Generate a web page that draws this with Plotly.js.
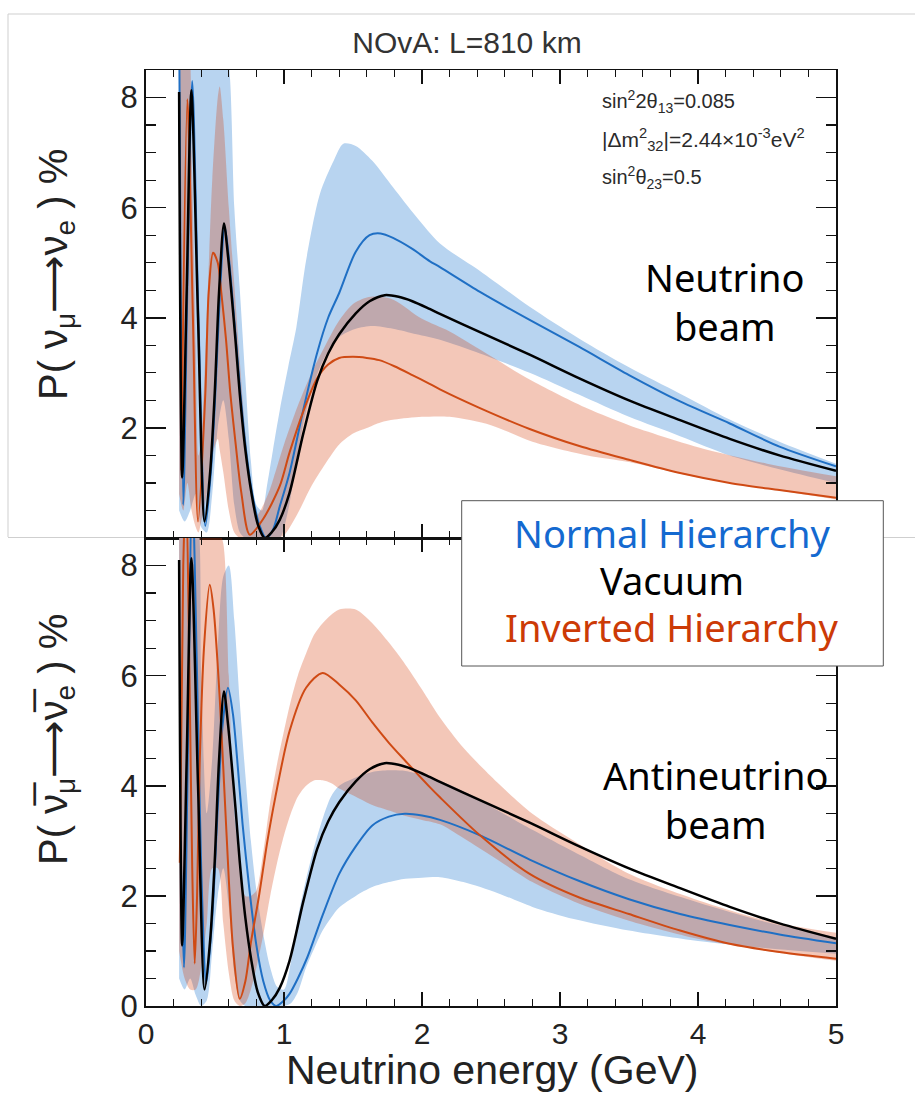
<!DOCTYPE html>
<html>
<head>
<meta charset="utf-8">
<script src="https://cdn.plot.ly/plotly-3.0.1.min.js"></script>
<style>
html,body{margin:0;padding:0;background:#fff;}
#chart{width:915px;height:1093px;}
</style>
</head>
<body>
<div id="chart"></div>
<script>
// ---------- Vacuum (same curve in both panels) ----------
const E_vac = [0.24,0.262,0.295,0.329,0.377,0.425,0.465,0.498,0.529,0.565,0.595,0.619,0.65,0.679,0.72,0.764,0.81,0.86,0.91,0.969,1.04,1.14,1.24,1.32,1.40,1.52,1.62,1.73,1.83,1.93,2.055,2.13,2.42,2.78,3.14,3.5,3.87,4.23,4.59,5.0];
const P_vac = [8.1,1.1,4.5,8.13,4.0,0.30,1.2,2.63,4.45,5.71,5.1,4.45,3.55,2.63,1.6,0.82,0.25,0.0,0.1,0.33,0.82,1.9,2.85,3.35,3.7,4.08,4.3,4.41,4.38,4.3,4.16,4.07,3.74,3.33,2.90,2.50,2.14,1.80,1.50,1.22];

// ---------- Neutrino beam: lines ----------
const E_nh_nu = [0.24,0.27,0.30,0.335,0.38,0.43,0.47,0.50,0.535,0.57,0.60,0.625,0.655,0.685,0.725,0.77,0.82,0.87,0.92,0.969,1.04,1.14,1.24,1.32,1.40,1.52,1.62,1.70,1.79,1.93,2.055,2.13,2.42,2.78,3.14,3.5,3.87,4.23,4.59,5.0];
const P_nh_nu = [9.5,0.6,4.6,8.3,4.0,0.22,1.2,2.5,4.4,5.66,5.1,4.4,3.5,2.6,1.6,0.8,0.25,0.0,0.15,0.57,1.18,2.33,3.36,4.0,4.45,5.2,5.5,5.53,5.45,5.25,5.03,4.92,4.47,3.96,3.47,2.96,2.48,2.08,1.66,1.30];
const E_ih_nu = [0.256,0.30,0.34,0.377,0.43,0.454,0.486,0.52,0.546,0.58,0.611,0.65,0.691,0.752,0.85,0.969,1.04,1.14,1.24,1.32,1.40,1.50,1.60,1.69,1.80,1.93,2.055,2.13,2.42,2.78,3.14,3.5,3.87,4.23,4.59,5.0];
const P_ih_nu = [1.23,7.97,4.0,0.30,2.63,4.45,5.18,5.0,4.45,3.6,2.63,1.7,0.82,0.06,0.35,0.94,1.55,2.3,2.9,3.15,3.27,3.29,3.27,3.23,3.12,2.96,2.8,2.7,2.36,1.98,1.67,1.42,1.18,1.0,0.87,0.73];

// ---------- Neutrino beam: bands ----------
const E_nhband_nu = [0.24,0.28,0.32,0.36,0.40,0.44,0.48,0.52,0.56,0.60,0.64,0.68,0.72,0.76,0.80,0.84,0.88,0.92,0.97,1.03,1.09,1.16,1.26,1.36,1.43,1.52,1.64,1.79,1.96,2.13,2.42,2.78,3.14,3.5,3.87,4.23,4.59,5.0];
const nhband_nu_hi = [9,9,9,9,9,9,9,9,9,8.6,6.0,4.5,2.9,1.4,0.6,0.5,1.0,1.6,2.33,3.1,3.83,5.04,6.25,6.85,7.16,7.12,6.85,6.37,5.83,5.35,4.85,4.2,3.62,3.1,2.62,2.15,1.75,1.35];
const nhband_nu_lo = [0.5,0.3,0.5,0.8,0.2,0.1,0.8,2.0,2.5,1.8,0.6,0.1,0,0,0,0,0,0,0,0.5,1.4,2.3,3.1,3.55,3.7,3.8,3.85,3.8,3.7,3.6,3.35,3.0,2.6,2.2,1.85,1.5,1.25,1.0];
const E_ihband_nu = [0.24,0.27,0.30,0.33,0.36,0.38,0.40,0.44,0.48,0.52,0.534,0.56,0.60,0.64,0.68,0.72,0.76,0.80,0.85,0.90,0.95,1.0,1.1,1.2,1.3,1.4,1.5,1.6,1.7,1.8,2.0,2.2,2.5,2.8,3.2,3.5,4.0,4.5,5.0];
const ihband_nu_hi = [9,9,9,7.0,3.5,1.5,1.8,4.0,6.5,8.0,8.2,7.6,6.0,4.6,3.2,1.9,0.9,0.4,0.6,0.9,1.3,1.7,2.4,3.0,3.5,3.95,4.25,4.37,4.38,4.32,3.98,3.75,3.3,2.85,2.35,2.05,1.65,1.35,1.12];
const ihband_nu_lo = [0.8,0.5,1.0,0.5,0.2,0.1,0.3,0.8,1.5,1.8,1.6,1.2,0.5,0.1,0,0,0,0,0,0,0,0.05,0.45,0.95,1.35,1.7,1.9,2.0,2.1,2.15,2.2,2.2,2.05,1.75,1.5,1.38,1.1,0.9,0.7];

// ---------- Antineutrino beam: lines ----------
const E_nh_anu = [0.25,0.275,0.30,0.335,0.37,0.40,0.437,0.48,0.52,0.555,0.594,0.63,0.66,0.70,0.75,0.80,0.85,0.90,0.945,1.0,1.04,1.10,1.17,1.28,1.40,1.52,1.64,1.76,1.875,2.0,2.13,2.42,2.78,3.14,3.5,3.87,4.23,4.59,5.0];
const P_nh_anu = [3.0,0.7,4.0,9.5,6.0,2.5,0.41,1.6,3.6,5.1,5.78,5.3,4.5,3.3,2.1,1.1,0.45,0.1,0.0,0.1,0.22,0.5,0.89,1.65,2.40,2.9,3.28,3.44,3.49,3.46,3.38,3.1,2.66,2.27,1.94,1.67,1.47,1.30,1.14];
const E_ih_anu = [0.245,0.27,0.29,0.315,0.335,0.353,0.37,0.389,0.42,0.462,0.49,0.534,0.582,0.63,0.679,0.72,0.76,0.817,0.88,0.937,1.04,1.16,1.28,1.40,1.52,1.64,1.76,1.88,2.055,2.13,2.42,2.78,3.14,3.5,3.87,4.23,4.59,5.0];
const P_ih_anu = [2.6,8.0,9.5,6.0,2.5,0.77,2.0,4.4,6.5,7.65,7.2,5.6,3.2,1.07,0.13,0.45,1.15,1.97,3.0,3.79,4.99,5.78,6.05,5.84,5.55,5.15,4.78,4.45,3.98,3.79,3.1,2.4,1.97,1.67,1.37,1.13,0.98,0.86];

// ---------- Antineutrino beam: bands ----------
const E_band_anu = [0.24,0.28,0.32,0.36,0.40,0.44,0.48,0.52,0.56,0.60,0.64,0.68,0.72,0.76,0.80,0.85,0.90,0.95,1.0,1.05,1.1,1.16,1.22,1.28,1.34,1.40,1.52,1.64,1.76,1.88,2.0,2.13,2.3,2.55,2.8,3.1,3.5,4.0,4.5,5.0];
const nhband_anu_hi = [9,9,9,9,6,3.5,4.5,6.5,7.8,8.0,7.0,5.5,4.2,3.0,2.1,1.3,0.7,0.35,0.3,0.8,1.6,2.3,2.9,3.4,3.8,4.0,4.15,4.25,4.28,4.27,4.2,4.09,3.9,3.55,3.2,2.8,2.3,1.88,1.52,1.25];
const nhband_anu_lo = [0.5,0.3,0.5,0.2,0.0,0.1,1.0,2.0,2.5,1.8,0.6,0.1,0,0,0,0,0,0,0,0.05,0.25,0.7,1.05,1.37,1.6,1.79,2.0,2.16,2.25,2.31,2.33,2.34,2.25,2.05,1.8,1.58,1.37,1.18,1.05,0.95];
const ihband_anu_hi = [9,9,9,9,9,9,9,8.7,8.4,6.0,3.5,2.6,2.0,2.0,2.1,2.8,3.7,4.4,5.0,5.55,6.0,6.4,6.75,6.95,7.1,7.2,7.2,6.95,6.6,6.2,5.75,5.24,4.69,4.05,3.49,3.0,2.4,1.92,1.55,1.33];
const ihband_anu_lo = [1.0,0.5,0.3,0.3,0.7,1.5,2.5,2.5,1.5,0.6,0.1,0.0,0.05,0.3,0.7,1.3,2.0,2.6,3.1,3.5,3.8,4.0,4.1,4.1,4.05,3.95,3.8,3.65,3.55,3.45,3.38,3.3,3.05,2.65,2.25,1.9,1.55,1.22,1.0,0.82];

// ---------- Tick labels ----------
const xTickVals = [0,1,2,3,4,5];
const xTickText = ['0','1','2','3','4','5'];
const yTickValsTop = [2,4,6,8];
const yTickTextTop = ['2','4','6','8'];
const yTickValsBot = [0,2,4,6,8];
const yTickTextBot = ['0','2','4','6','8'];

// ---------- Styles ----------
const C_NH = '#1f6fc4', C_IH = '#cf4a14', C_VAC = '#000000';
const F_NHBAND = '#b8d4f0';
const F_IHBAND = 'rgba(212,55,1,0.28)';
const AX_FONT = 'Liberation Sans, Arial, sans-serif';
const TXT_FONT = 'Noto Sans, Open Sans, sans-serif';

function band(x, lo, hi, fill, xa, ya) {
  return [
    {x: x, y: lo, xaxis: xa, yaxis: ya, mode: 'lines', line: {width: 0, shape: 'spline', smoothing: 0.8}, hoverinfo: 'skip', showlegend: false},
    {x: x, y: hi, xaxis: xa, yaxis: ya, mode: 'lines', fill: 'tonexty', fillcolor: fill, line: {width: 0, shape: 'spline', smoothing: 0.8}, hoverinfo: 'skip', showlegend: false}
  ];
}
function curve(x, y, color, w, xa, ya) {
  return {x: x, y: y, xaxis: xa, yaxis: ya, mode: 'lines', line: {color: color, width: w, shape: 'spline', smoothing: 0.8}, hoverinfo: 'skip', showlegend: false};
}

const traces = [].concat(
  band(E_nhband_nu, nhband_nu_lo, nhband_nu_hi, F_NHBAND, 'x', 'y'),
  band(E_ihband_nu, ihband_nu_lo, ihband_nu_hi, F_IHBAND, 'x', 'y'),
  [curve(E_nh_nu, P_nh_nu, C_NH, 2, 'x', 'y'),
   curve(E_ih_nu, P_ih_nu, C_IH, 2, 'x', 'y'),
   curve(E_vac, P_vac, C_VAC, 2.5, 'x', 'y')],
  band(E_band_anu, nhband_anu_lo, nhband_anu_hi, F_NHBAND, 'x2', 'y2'),
  band(E_band_anu, ihband_anu_lo, ihband_anu_hi, F_IHBAND, 'x2', 'y2'),
  [curve(E_nh_anu, P_nh_anu, C_NH, 2, 'x2', 'y2'),
   curve(E_ih_anu, P_ih_anu, C_IH, 2, 'x2', 'y2'),
   curve(E_vac, P_vac, C_VAC, 2.5, 'x2', 'y2')]
);

function xax(anchor, labels) {
  return {
    anchor: anchor, range: [0, 5], tickvals: xTickVals, ticktext: xTickText,
    showticklabels: labels, ticks: 'inside', ticklen: 14, tickwidth: 1.5, tickcolor: '#111',
    minor: {dtick: 0.2, ticks: 'inside', ticklen: 7, tickwidth: 1.2, tickcolor: '#111', showgrid: false},
    showline: true, linewidth: 1.5, linecolor: '#111', mirror: 'ticks',
    showgrid: false, zeroline: false,
    tickfont: {family: AX_FONT, size: 30, color: '#222'}
  };
}
function yax(domain, anchor, vals, text) {
  return {
    domain: domain, anchor: anchor, range: [0, 8.5], tickvals: vals, ticktext: text,
    ticks: 'inside', ticklen: 20, tickwidth: 1.5, tickcolor: '#111',
    minor: {dtick: 0.5, ticks: 'inside', ticklen: 10, tickwidth: 1.2, tickcolor: '#111', showgrid: false},
    showline: true, linewidth: 2, linecolor: '#111', mirror: 'ticks',
    showgrid: false, zeroline: false,
    tickfont: {family: AX_FONT, size: 31, color: '#222'}
  };
}

const PX = px => (px - 146) / 690;
const PY = py => (1006 - py) / 936;

const layout = {
  width: 915, height: 1093,
  margin: {l: 146, r: 79, t: 70, b: 87},
  paper_bgcolor: '#fff', plot_bgcolor: 'rgba(0,0,0,0)',
  showlegend: false,
  title: {text: 'NOvA: L=810 km', x: PX(467), xref: 'paper', xanchor: 'center',
          y: 1 - 42 / 1093, yref: 'container', yanchor: 'middle',
          font: {family: AX_FONT, size: 30, color: '#333'}},
  xaxis: xax('y', false),
  yaxis: yax([0.5, 1], 'x', yTickValsTop, yTickTextTop),
  xaxis2: xax('y2', true),
  yaxis2: yax([0, 0.5], 'x2', yTickValsBot, yTickTextBot),
  shapes: [
    // screenshot frame of the upper image
    {type: 'line', xref: 'paper', yref: 'paper', x0: PX(8), x1: PX(8), y0: PY(14), y1: PY(537), line: {color: '#cfcfcf', width: 1}, layer: 'below'},
    {type: 'line', xref: 'paper', yref: 'paper', x0: PX(8), x1: PX(915), y0: PY(14), y1: PY(14), line: {color: '#cfcfcf', width: 1}, layer: 'below'},
    {type: 'line', xref: 'paper', yref: 'paper', x0: PX(8), x1: PX(146), y0: PY(537.5), y1: PY(537.5), line: {color: '#cfcfcf', width: 1}, layer: 'below'},
    {type: 'line', xref: 'paper', yref: 'paper', x0: PX(836), x1: PX(915), y0: PY(537.5), y1: PY(537.5), line: {color: '#cfcfcf', width: 1}, layer: 'below'},
    // legend box
    {type: 'rect', xref: 'paper', yref: 'paper', x0: PX(461.7), x1: PX(883.3), y0: PY(666), y1: PY(500.7), fillcolor: '#fff', line: {color: '#555', width: 1}, layer: 'above'}
  ],
  annotations: [
    {text: 'sin<sup>2</sup>2θ<sub>13</sub>=0.085', xref: 'paper', yref: 'paper', x: PX(600), y: PY(101), xanchor: 'left', yanchor: 'middle', showarrow: false, font: {family: AX_FONT, size: 20, color: '#2a2a2a'}},
    {text: '|Δm<sup>2</sup><sub>32</sub>|=2.44×10<sup>-3</sup>eV<sup>2</sup>', xref: 'paper', yref: 'paper', x: PX(600), y: PY(140), xanchor: 'left', yanchor: 'middle', showarrow: false, font: {family: AX_FONT, size: 21, color: '#2a2a2a'}},
    {text: 'sin<sup>2</sup>θ<sub>23</sub>=0.5', xref: 'paper', yref: 'paper', x: PX(600), y: PY(177), xanchor: 'left', yanchor: 'middle', showarrow: false, font: {family: AX_FONT, size: 20, color: '#2a2a2a'}},
    {text: 'Neutrino<br>beam', xref: 'paper', yref: 'paper', x: PX(725), y: PY(301), xanchor: 'center', yanchor: 'middle', showarrow: false, font: {family: TXT_FONT, size: 38, color: '#000'}},
    {text: 'Antineutrino<br>beam', xref: 'paper', yref: 'paper', x: PX(715), y: PY(799), xanchor: 'center', yanchor: 'middle', showarrow: false, font: {family: TXT_FONT, size: 38, color: '#000'}},
    {text: 'Normal Hierarchy', xref: 'paper', yref: 'paper', x: PX(672), y: PY(533), xanchor: 'center', yanchor: 'middle', showarrow: false, font: {family: TXT_FONT, size: 38, color: '#1469d0'}},
    {text: 'Vacuum', xref: 'paper', yref: 'paper', x: PX(672), y: PY(580), xanchor: 'center', yanchor: 'middle', showarrow: false, font: {family: TXT_FONT, size: 38, color: '#000'}},
    {text: 'Inverted Hierarchy', xref: 'paper', yref: 'paper', x: PX(672), y: PY(627), xanchor: 'center', yanchor: 'middle', showarrow: false, font: {family: TXT_FONT, size: 38, color: '#cc3a06'}},
    {text: 'P( ν<sub>μ</sub>⟶ν<sub>e</sub> ) %', xref: 'paper', yref: 'paper', x: PX(56), y: PY(275), xanchor: 'center', yanchor: 'middle', textangle: -90, showarrow: false, font: {family: AX_FONT + ', DejaVu Sans', size: 40, color: '#222'}},
    {text: 'P( ν\u0305<sub>μ</sub>⟶ν\u0305<sub>e</sub> ) %', xref: 'paper', yref: 'paper', x: PX(56), y: PY(740), xanchor: 'center', yanchor: 'middle', textangle: -90, showarrow: false, font: {family: AX_FONT + ', DejaVu Sans', size: 40, color: '#222'}},
    {text: 'Neutrino energy (GeV)', xref: 'paper', yref: 'paper', x: PX(492), y: PY(1070), xanchor: 'center', yanchor: 'middle', showarrow: false, font: {family: AX_FONT, size: 41, color: '#222'}}
  ]
};

Plotly.newPlot('chart', traces, layout, {displayModeBar: false, staticPlot: true});
</script>
</body>
</html>
